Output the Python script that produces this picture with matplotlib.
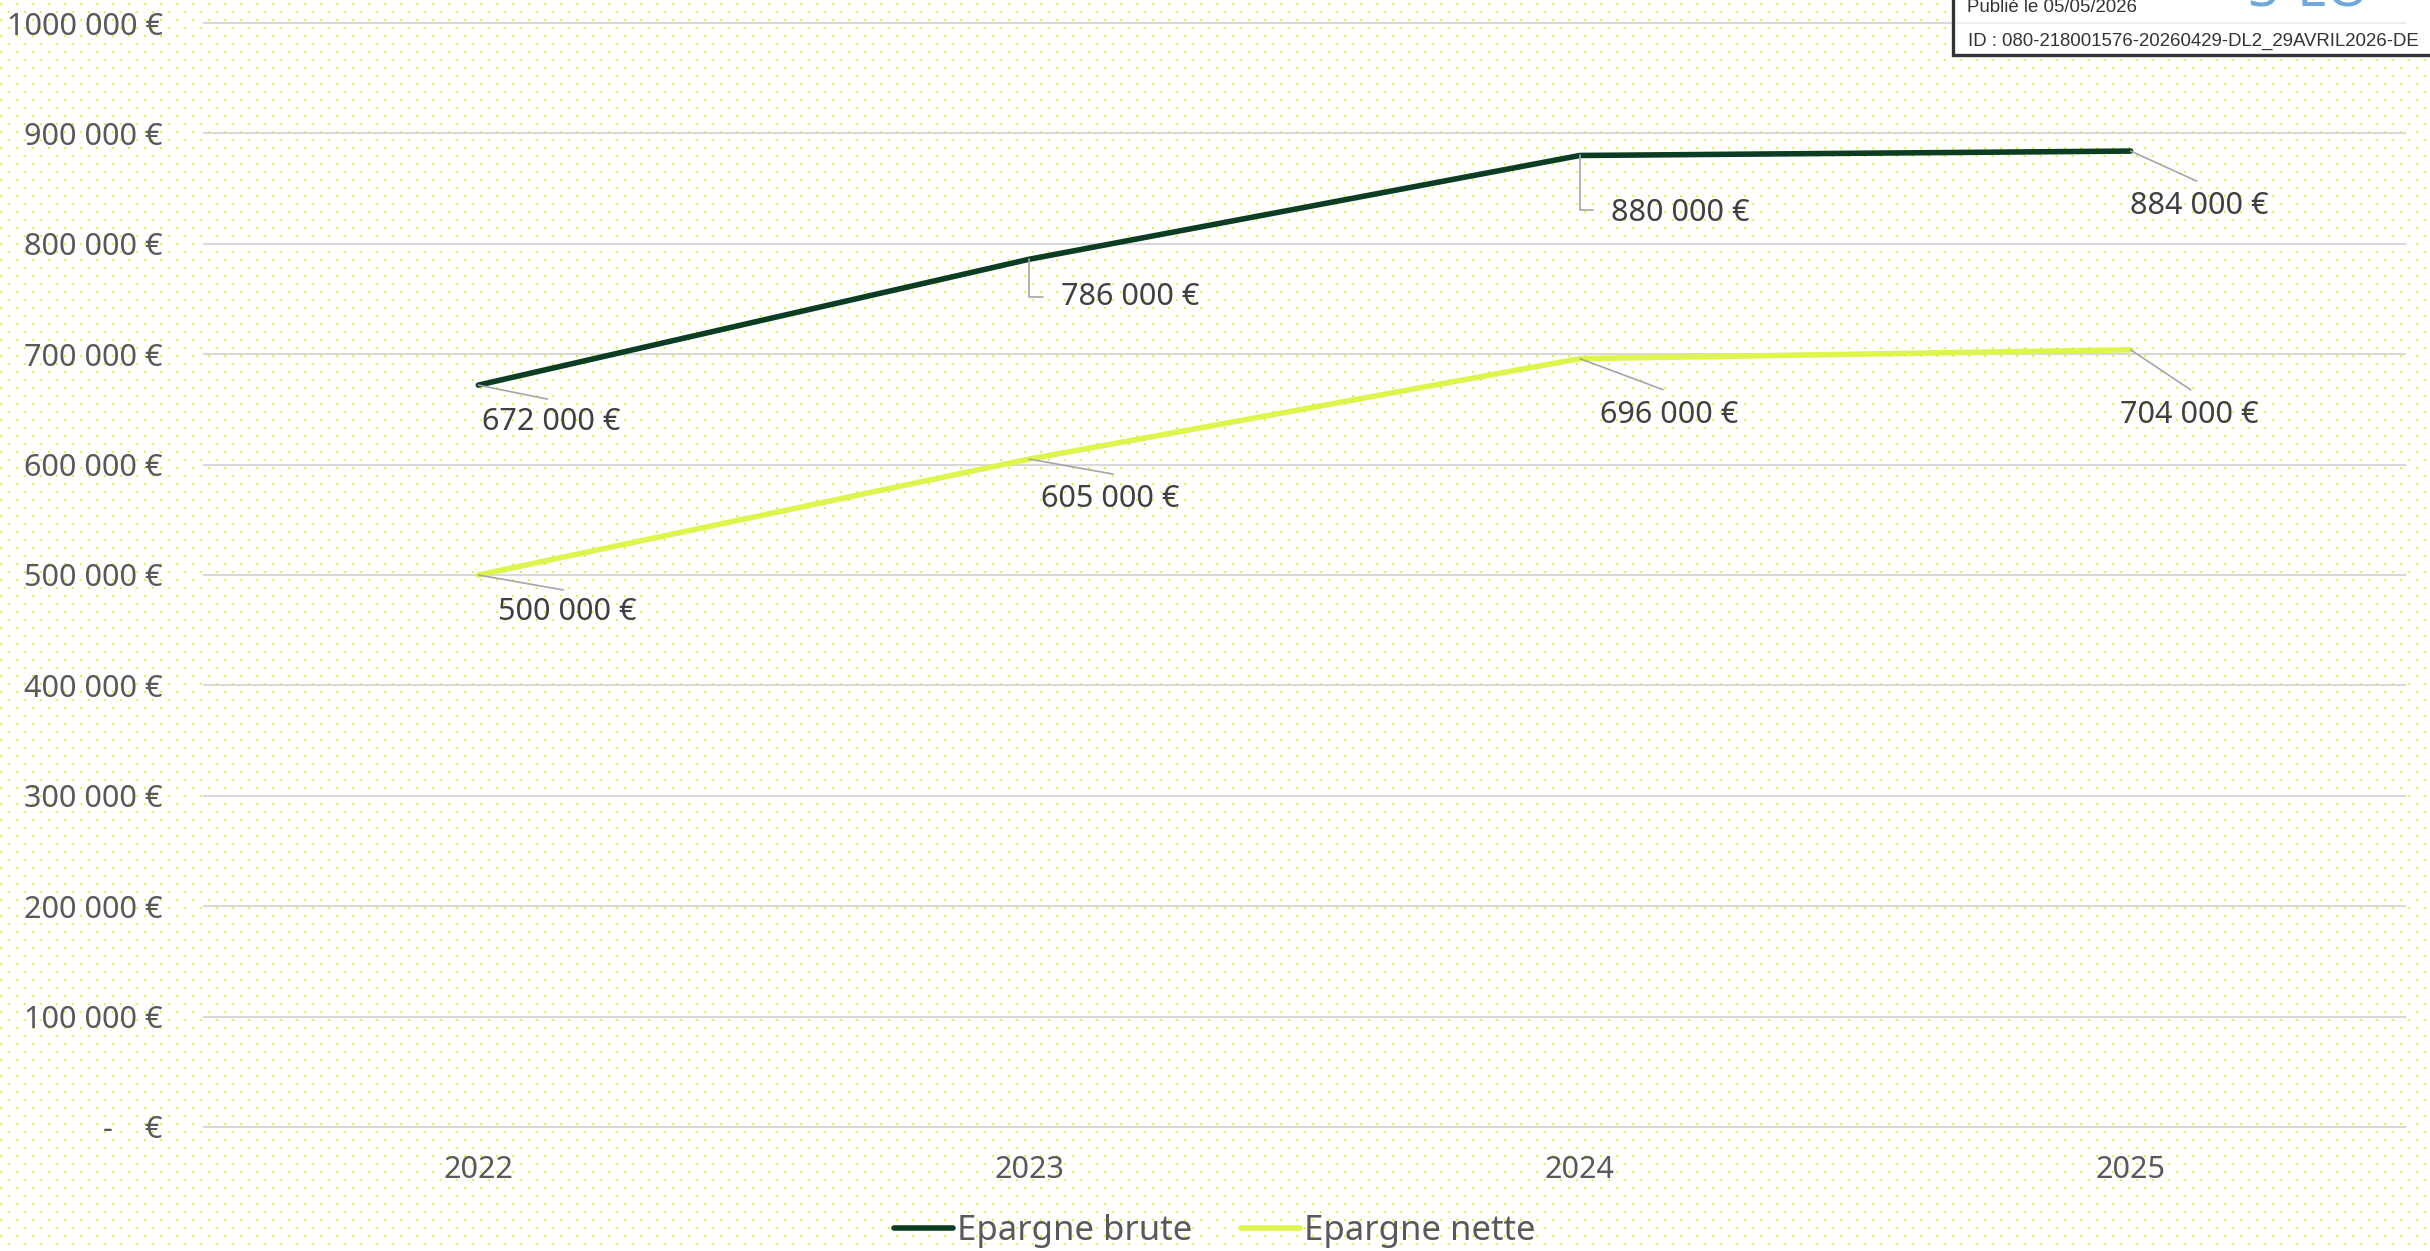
import matplotlib.pyplot as plt
import numpy as np
from matplotlib.patches import Rectangle
from matplotlib.lines import Line2D

plt.rcParams['font.family'] = ['Noto Sans', 'DejaVu Sans']

# the data
years = ['2022', '2023', '2024', '2025']
epargne_brute = [672000, 786000, 880000, 884000]
epargne_nette = [500000, 605000, 696000, 704000]

# where the data labels sit, in pixels from the point (text centre, leader end)
brute_text_off = [(73, -37), (101, -38), (100, -58), (69, -55)]
brute_lead_off = [(69, -14), (14, -38), (13, -55), (66, -30)]
brute_elbow = [False, True, True, False]
nette_text_off = [(89, -37), (81, -40), (89, -56), (59, -65)]
nette_lead_off = [(85, -15), (84, -15), (83, -31), (60, -40)]
nette_elbow = [False, False, False, False]

brute_color = '#0b3d23'
nette_color = '#ddf54c'

W, H = 2430, 1251
fig = plt.figure(figsize=(W / 100, H / 100), dpi=100)

# dotted background (staggered lime dots)
bg = np.ones((H, W, 3))
dot = np.array([223, 245, 66]) / 255
for dy in (0, 1):
    for dx in (0, 1):
        bg[3 + dy::16, dx::16] = dot
        bg[11 + dy::16, 8 + dx::16] = dot
fig.figimage(bg, xo=0, yo=0, origin='upper', zorder=-5)

# axes placed so that 0 -> 1127px and 1M -> 23px from the top
ymin, ymax = -20000, 1020000
px_per = (1127 - 23) / 1e6
y_top_px = 23 - (ymax - 1e6) * px_per
y_bot_px = 1127 + (0 - ymin) * px_per
ax = fig.add_axes([203 / W, (H - y_bot_px) / H, (2406 - 203) / W, (y_bot_px - y_top_px) / H])
ax.set_facecolor('none')

x = np.arange(len(years))
ax.plot(x, epargne_brute, color=brute_color, lw=4, solid_capstyle='round',
        solid_joinstyle='round', label='Epargne brute', zorder=3)
ax.plot(x, epargne_nette, color=nette_color, lw=4, solid_capstyle='round',
        solid_joinstyle='round', label='Epargne nette', zorder=3)


def euro(v, pos=None):
    v = int(round(v))
    if v == 0:
        return '-    €'
    return f"{v // 1000} {v % 1000:03d} €"


ax.set_xlim(-0.5, len(years) - 0.5)
ax.set_ylim(ymin, ymax)
ax.set_xticks(x)
ax.set_xticklabels(years)
ax.set_yticks(np.arange(0, 1000001, 100000))
ax.yaxis.set_major_formatter(plt.FuncFormatter(euro))
ax.yaxis.grid(True, color='#d9d9d9', lw=1.5)
ax.set_axisbelow(True)
for s in ax.spines.values():
    s.set_visible(False)
ax.tick_params(axis='both', length=0, labelsize=22, labelcolor='#595959')
ax.tick_params(axis='y', pad=29)
ax.tick_params(axis='x', pad=4)

# data labels with leader lines
for vals, toff, loff, elbow in [(epargne_brute, brute_text_off, brute_lead_off, brute_elbow),
                                (epargne_nette, nette_text_off, nette_lead_off, nette_elbow)]:
    for i in range(len(vals)):
        ax.annotate(euro(vals[i]), xy=(x[i], vals[i]), xytext=toff[i], textcoords='offset pixels',
                    ha='center', va='center', fontsize=22, color='#404040', zorder=5)
        cs = 'angle,angleA=0,angleB=90,rad=0' if elbow[i] else 'arc3'
        ax.annotate('', xy=(x[i], vals[i]), xytext=loff[i], textcoords='offset pixels',
                    arrowprops=dict(arrowstyle='-', color='#a6a6a6', lw=1.2,
                                    shrinkA=0, shrinkB=0, connectionstyle=cs), zorder=4)

fig.legend(loc='center', bbox_to_anchor=(0.5, 20 / H), ncol=2, frameon=False, fontsize=25,
           handlelength=1.7, handletextpad=0.12, columnspacing=1.4, labelcolor='#595959')

# stamp box in the top right corner
fig.add_artist(Rectangle((1953 / W, (H - 55) / H), 0.2, 0.2, transform=fig.transFigure,
                         facecolor='white', edgecolor='#333333', lw=2.4, zorder=10))
fig.add_artist(Line2D([1957 / W, 2405 / W], [(H - 23) / H] * 2, transform=fig.transFigure,
                      color='#eeeeee', lw=1.5, zorder=11))
fig.text(1967 / W, (H - 11.5) / H, 'Publié le 05/05/2026', fontsize=13.4, family='Liberation Sans',
         color='#333333', va='baseline', zorder=12)
fig.text(1968 / W, (H - 45.5) / H, 'ID : 080-218001576-20260429-DL2_29AVRIL2026-DE', fontsize=13.4,
         family='Liberation Sans', color='#333333', va='baseline', zorder=12)
fig.text(2247 / W, (H - 5) / H, 'S²LO', fontsize=40, fontweight='bold', color='#6fa8dc',
         va='baseline', zorder=12)

fig.savefig('out.png', dpi=100)
